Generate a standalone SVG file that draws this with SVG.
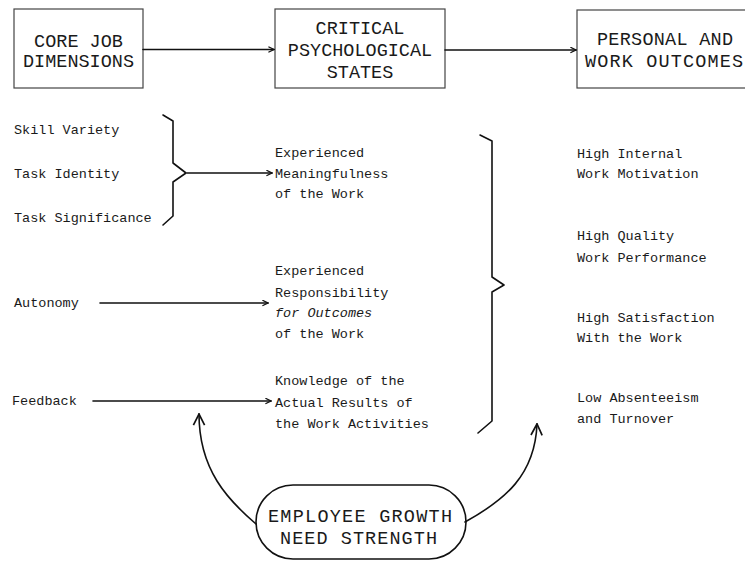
<svg xmlns="http://www.w3.org/2000/svg" width="745" height="561" viewBox="0 0 745 561">
<defs>
<style>
.t{font-family:"Liberation Mono","DejaVu Sans Mono",monospace;font-size:13.5px;fill:#1a1a1a}
.h{font-family:"Liberation Mono","DejaVu Sans Mono",monospace;font-size:18.5px;fill:#1a1a1a;text-anchor:middle}
.box{fill:none;stroke:#444;stroke-width:1.2}
.ln{fill:none;stroke:#111;stroke-width:1.6;stroke-linecap:round;stroke-linejoin:round}
</style>
<marker id="ah" viewBox="0 0 10 10" refX="9" refY="5" markerWidth="7" markerHeight="7" markerUnits="userSpaceOnUse" orient="auto">
<path d="M1,1 L9,5 L1,9" fill="none" stroke="#111" stroke-width="1.8"/>
</marker>
<marker id="ah2" viewBox="0 0 10 10" refX="9" refY="5" markerWidth="14" markerHeight="14" markerUnits="userSpaceOnUse" orient="auto">
<path d="M1,1 L9,5 L1,9" fill="none" stroke="#111" stroke-width="1.2"/>
</marker>
</defs>
<rect width="745" height="561" fill="#fff"/>

<g id="core-job-dimensions">
<rect class="box" x="14" y="9" width="129" height="79"/>
<text class="h" x="78.5" y="47">CORE JOB</text>
<text class="h" x="78.5" y="67">DIMENSIONS</text>
</g>
<g id="critical-states">
<rect class="box" x="275" y="9" width="170" height="79"/>
<text class="h" x="360" y="34">CRITICAL</text>
<text class="h" x="360" y="56">PSYCHOLOGICAL</text>
<text class="h" x="360" y="78">STATES</text>
</g>
<g id="outcomes">
<rect class="box" x="577" y="10" width="175" height="78"/>
<text class="h" x="665" y="45" textLength="136" lengthAdjust="spacing">PERSONAL AND</text>
<text class="h" x="664" y="67" textLength="158" lengthAdjust="spacing">WORK OUTCOMES</text>
</g>

<g id="skill-variety"><text class="t" x="14" y="134">Skill Variety</text></g>
<g id="task-identity"><text class="t" x="14" y="178">Task Identity</text></g>
<g id="task-significance"><text class="t" x="14" y="222">Task Significance</text></g>
<g id="autonomy"><text class="t" x="14" y="307">Autonomy</text></g>
<g id="feedback"><text class="t" x="12" y="405">Feedback</text></g>

<g id="meaningfulness">
<text class="t" x="275" y="157">Experienced</text>
<text class="t" x="275" y="178">Meaningfulness</text>
<text class="t" x="275" y="198">of the Work</text>
</g>
<g id="responsibility">
<text class="t" x="275" y="275">Experienced</text>
<text class="t" x="275" y="297">Responsibility</text>
<text class="t" x="275" y="317" font-style="italic">for Outcomes</text>
<text class="t" x="275" y="338">of the Work</text>
</g>
<g id="knowledge">
<text class="t" x="275" y="385">Knowledge of the</text>
<text class="t" x="275" y="407">Actual Results of</text>
<text class="t" x="275" y="428">the Work Activities</text>
</g>

<g id="motivation">
<text class="t" x="577" y="158">High Internal</text>
<text class="t" x="577" y="178">Work Motivation</text>
</g>
<g id="performance">
<text class="t" x="577" y="240">High Quality</text>
<text class="t" x="577" y="262">Work Performance</text>
</g>
<g id="satisfaction">
<text class="t" x="577" y="322">High Satisfaction</text>
<text class="t" x="577" y="342">With the Work</text>
</g>
<g id="absenteeism">
<text class="t" x="577" y="402">Low Absenteeism</text>
<text class="t" x="577" y="423">and Turnover</text>
</g>

<g id="growth-need-strength">
<rect class="ln" x="256" y="485" width="210" height="74" rx="37" ry="37"/>
<text class="h" x="360" y="522" textLength="184" lengthAdjust="spacing">EMPLOYEE GROWTH</text>
<text class="h" x="358.5" y="544" textLength="157" lengthAdjust="spacing">NEED STRENGTH</text>
</g>

<g id="connectors">
<line class="ln" x1="143" y1="49.5" x2="274" y2="49.5" marker-end="url(#ah)"/>
<line class="ln" x1="445" y1="50" x2="576" y2="50" marker-end="url(#ah)"/>
<path class="ln" d="M163,115 L173,121 L173,163 L186,173 L173,182 L173,216 L163,225"/>
<line class="ln" x1="187" y1="173" x2="272" y2="173" marker-end="url(#ah)"/>
<line class="ln" x1="100" y1="303" x2="268" y2="303" marker-end="url(#ah)"/>
<line class="ln" x1="93" y1="401" x2="271" y2="401" marker-end="url(#ah)"/>
<path class="ln" d="M480,135 L492,141 L492,277 L504,285 L492,292 L492,421 L478,433"/>
<path class="ln" d="M256,524 C228,500 199,470 199,414" marker-end="url(#ah2)"/>
<path class="ln" d="M465,522 C505,500 535,475 537,424" marker-end="url(#ah2)"/>
</g>
</svg>
